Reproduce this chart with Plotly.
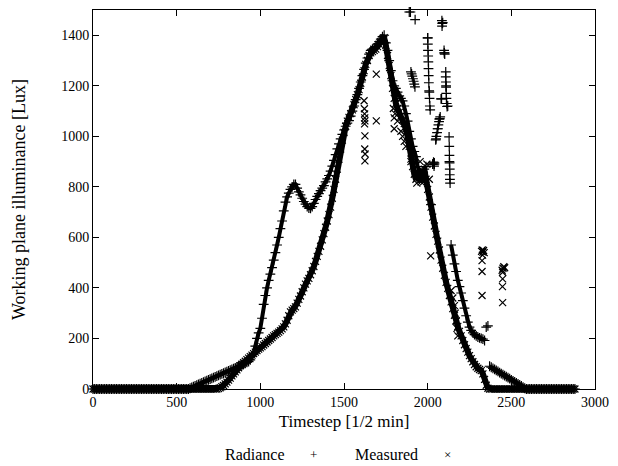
import plotly.graph_objects as go

# Timesteps (every 10th half-minute step)
timestep = list(range(0, 2890, 10))

radiance = [
    0, 0, 0, 0, 0, 0, 0, 0, 0, 0,
    0, 0, 0, 0, 0, 0, 0, 0, 0, 0,
    0, 0, 0, 0, 0, 0, 0, 0, 0, 0,
    0, 0, 0, 0, 0, 0, 0, 0, 0, 0,
    0, 0, 0, 0, 0, 0, 0, 0, 0, 0,
    0, 0, 0, 0, 0, 0, 0, 0, 3, 6,
    9, 12, 15, 18, 21, 24, 27, 30, 33, 36,
    39, 42, 45, 48, 51, 54, 57, 60, 63, 66,
    69, 72, 75, 78, 81, 84, 87, 90, 93, 96,
    99, 102, 105, 108, 115, 130, 140, 170, 200, 222,
    240, 280, 335, 370, 400, 430, 455, 480, 510, 540,
    570, 600, 635, 665, 705, 740, 760, 775, 790, 800,
    810, 810, 795, 780, 768, 755, 742, 732, 722, 716,
    715, 722, 735, 750, 762, 773, 785, 795, 805, 820,
    832, 845, 862, 882, 905, 928, 950, 970, 990, 1008,
    1025, 1040, 1052, 1062, 1080, 1100, 1120, 1145, 1165, 1190,
    1215, 1240, 1265, 1290, 1310, 1325, 1340, 1345, 1350, 1355,
    1365, 1375, 1385, 1395, 1400, 1370, 1340, 1300, 1260, 1220,
    1200, 1190, 1175, 1160, 1150, 1140, 1120, 1090, 1060, 1020,
    990, 960, 940, 920, 880, 860, 850, 840, 870, 880,
    1390, 1175, 730, 890, 895, 990, 1030, 1068, 1148, 1450,
    1330, 1200, 1120, 900, 570, 530, 495, 465, 430, 405,
    380, 350, 320, 290, 265, 245, 232, 222, 215, 210,
    205, 202, 200, 197, 192, 245, 250, 90, 86, 82,
    78, 74, 70, 65, 61, 57, 53, 49, 45, 41,
    36, 32, 28, 24, 20, 16, 12, 7, 3, 0,
    0, 0, 0, 0, 0, 0, 0, 0, 0, 0,
    0, 0, 0, 0, 0, 0, 0, 0, 0, 0,
    0, 0, 0, 0, 0, 0, 0, 0, 0,
]

measured = [
    0, 0, 0, 0, 0, 0, 0, 0, 0, 0,
    0, 0, 0, 0, 0, 0, 0, 0, 0, 0,
    0, 0, 0, 0, 0, 0, 0, 0, 0, 0,
    0, 0, 0, 0, 0, 0, 0, 0, 0, 0,
    0, 0, 0, 0, 0, 0, 0, 0, 0, 0,
    0, 0, 0, 0, 0, 0, 0, 0, 0, 0,
    0, 0, 0, 0, 0, 0, 0, 0, 0, 0,
    0, 0, 0, 0, 0, 2, 5, 9, 14, 20,
    27, 35, 43, 52, 60, 68, 76, 84, 92, 98,
    104, 110, 116, 122, 128, 134, 140, 146, 152, 158,
    163, 168, 174, 180, 186, 192, 198, 204, 210, 215,
    220, 225, 231, 238, 246, 258, 272, 290, 305, 312,
    318, 325, 340, 355, 368, 385, 400, 415, 428, 438,
    452, 468, 485, 505, 525, 545, 565, 590, 615, 640,
    665, 690, 720, 755, 790, 830, 870, 910, 950, 985,
    1015, 1040, 1060, 1075, 1090, 1105, 1125, 1145, 1165, 1185,
    1210, 1235, 1260, 1285, 1300, 1320, 1330, 1335, 1340, 1345,
    1355, 1365, 1375, 1385, 1390, 1360, 1320, 1280, 1240, 1190,
    1150, 1130, 1110, 1095, 1080, 1065, 1050, 1030, 1000, 960,
    910, 880, 850, 830, 860, 835, 820, 850, 870, 830,
    790, 760, 720, 680, 645, 612, 585, 550, 510, 478,
    450, 422, 398, 370, 345, 318, 292, 268, 248, 228,
    210, 192, 175, 160, 146, 132, 120, 108, 97, 88,
    82, 77, 73, 60, 38, 15, 3, 0, 0, 0,
    0, 0, 0, 0, 0, 0, 0, 0, 0, 0,
    0, 0, 0, 0, 0, 0, 0, 0, 0, 0,
    0, 0, 0, 0, 0, 0, 0, 0, 0, 0,
    0, 0, 0, 0, 0, 0, 0, 0, 0, 0,
    0, 0, 0, 0, 0, 0, 0, 0, 0,
]

# Isolated Radiance readings (spikes)
radiance_spike_t = [1890, 1897, 1925,
                    1900, 1904, 1908, 1912, 1916, 1920, 1924,
                    2000, 2001, 2002, 2003, 2004, 2005, 2006, 2007, 2009, 2011, 2013, 2015,
                    2085, 2087, 2086, 2098, 2100, 2102,
                    2108, 2108, 2109, 2110, 2111, 2112, 2114, 2116, 2083,
                    2128, 2129, 2130, 2131, 2132, 2132, 2133, 2134,
                    2048, 2052, 2056, 2060, 2064, 2068, 2072, 2075,
                    2030, 2035, 2040, 2038]
radiance_spike_lux = [1492, 1492, 1462,
                      1255, 1247, 1238, 1228, 1218, 1207, 1196,
                      1390, 1365, 1340, 1318, 1295, 1268, 1240, 1212, 1180, 1150, 1120, 1105,
                      1458, 1447, 1436, 1340, 1330, 1325,
                      1255, 1235, 1215, 1195, 1170, 1150, 1130, 1118, 1148,
                      998, 960, 925, 895, 870, 848, 830, 815,
                      986, 1000, 1015, 1030, 1045, 1058, 1070, 1077,
                      890, 898, 890, 882]

# Isolated Measured readings (scatter)
measured_spike_t = [1620, 1622, 1623, 1624, 1625, 1623, 1625, 1624, 1626, 1625,
                    1693, 1693, 1800, 1800, 2018,
                    1795, 1805, 1820, 1840, 1850, 1860, 1870,
                    1900, 1915, 1935, 1955, 1975, 1995, 2010,
                    2140, 2150, 2160, 2165, 2170, 2175, 2180,
                    2322, 2326, 2330, 2334, 2338, 2328, 2325, 2325, 2325,
                    2445, 2450, 2455, 2460, 2448, 2448, 2447, 2448]
measured_spike_lux = [1141, 1109, 1089, 1073, 1061, 1049, 1002, 950, 930, 903,
                      1061, 1246, 1073, 1030, 527,
                      1110, 1090, 1060, 1020, 1000, 980, 960,
                      900, 905, 815, 900, 820, 890, 830,
                      390, 360, 330, 300, 270, 240, 210,
                      545, 550, 542, 548, 540, 530, 508, 465, 370,
                      470, 478, 484, 480, 462, 436, 405, 342]

if len(radiance) != len(timestep) or len(measured) != len(timestep):
    raise ValueError(f"length mismatch {len(timestep)} {len(radiance)} {len(measured)}")

FONT = "Liberation Serif"
plus_marker = dict(symbol="cross-thin-open", size=7, color="black",
                   line=dict(color="black", width=1.2))
x_marker = dict(symbol="x-thin-open", size=7, color="black",
                line=dict(color="black", width=1.2))

fig = go.Figure()

# Dense sample bands (the per-step readings overlap into a solid band)
def band(ts, ys, width):
    fig.add_trace(go.Scatter(x=ts, y=ys, mode="lines", hoverinfo="skip",
                             line=dict(color="black", width=width),
                             showlegend=False))

# Radiance: continuous stretches only (not across the erratic jumps)
for i0, i1 in [(0, 200), (214, 235), (237, len(timestep))]:
    band(timestep[i0:i1], radiance[i0:i1], 4)
band(timestep, measured, 6)

fig.add_trace(go.Scatter(x=timestep, y=radiance, mode="markers", name="Radiance",
                         marker=plus_marker, cliponaxis=False, showlegend=False))
fig.add_trace(go.Scatter(x=radiance_spike_t, y=radiance_spike_lux, mode="markers",
                         name="Radiance", marker=plus_marker, cliponaxis=False,
                         showlegend=False))
fig.add_trace(go.Scatter(x=timestep, y=measured, mode="markers", name="Measured",
                         marker=x_marker, cliponaxis=False, showlegend=False))
fig.add_trace(go.Scatter(x=measured_spike_t, y=measured_spike_lux, mode="markers",
                         name="Measured", marker=x_marker, cliponaxis=False,
                         showlegend=False))

axis_common = dict(showline=True, linecolor="black", linewidth=1, mirror="allticks",
                   ticks="inside", ticklen=6, tickcolor="black", tickwidth=1,
                   showgrid=False, zeroline=False,
                   tickfont=dict(family=FONT, size=14, color="black"))

fig.update_xaxes(range=[0, 3000], dtick=500, tick0=0,
                 title=dict(text="Timestep [1/2 min]", font=dict(family=FONT, size=17, color="black"),
                            standoff=6),
                 **axis_common)
fig.update_yaxes(range=[0, 1500], dtick=200, tick0=0,
                 title=dict(text="Working plane illuminance [Lux]",
                            font=dict(family=FONT, size=18, color="black"), standoff=30),
                 **axis_common)

L, R, T, B = 93, 16, 9, 77
W, H = 618, 466
pw, ph = W - L - R, H - T - B

def px_to_paper(px, py):
    return (px - L) / pw, (H - B - py) / ph

legend_items = [("Radiance", 257, 16), ("+", 317, 13), ("Measured", 391, 16), ("×", 452, 13)]
for text, px, size in legend_items:
    xp, yp = px_to_paper(px, 455)
    fig.add_annotation(x=xp, y=yp, xref="paper", yref="paper", text=text, showarrow=False,
                       xanchor="center", yanchor="middle",
                       font=dict(family=FONT, size=size, color="black"))

fig.update_layout(width=W, height=H, margin=dict(l=L, r=R, t=T, b=B),
                  paper_bgcolor="white", plot_bgcolor="white",
                  font=dict(family=FONT, color="black"))

fig.write_html("out.html")
